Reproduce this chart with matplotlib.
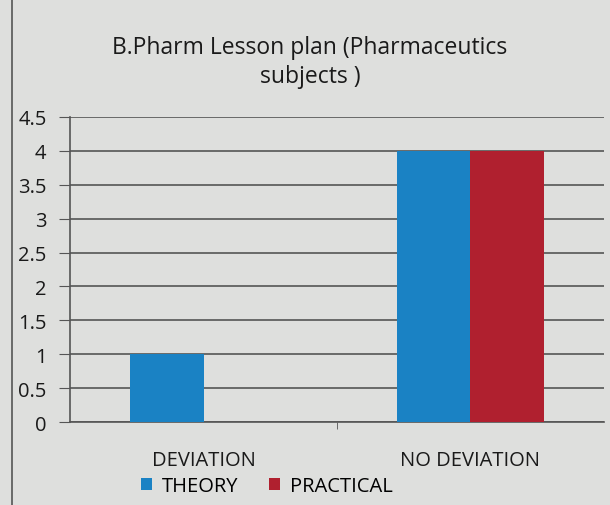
import numpy as np
import matplotlib.pyplot as plt
import matplotlib.patches as mpl_patches

categories = ['DEVIATION', 'NO DEVIATION']
theory = [1, 4]
practical = [0, 4]
series_names = ['THEORY', 'PRACTICAL']

BLUE = '#1a82c4'
RED = '#b0202f'
BG = '#dedfdd'
GRID = '#555555'
TXT = '#1a1a1a'

plt.rcParams['font.family'] = ['Open Sans', 'DejaVu Sans']

fig = plt.figure(figsize=(6.10, 5.06), dpi=100, facecolor=BG)
ax = fig.add_axes([0.115, 0.164, 0.875, 0.603])
ax.set_facecolor(BG)

x = np.arange(len(categories))
w = 0.277
ax.bar(x - w / 2, theory, width=w, color=BLUE, label=series_names[0], zorder=3)
ax.bar(x + w / 2, practical, width=w, color=RED, label=series_names[1], zorder=3)

ax.set_xlim(-0.5, 1.5)
ax.set_ylim(0, 4.5)
ax.set_yticks(np.arange(0, 4.51, 0.5))
ax.set_yticklabels(['0', '0.5', '1', '1.5', '2', '2.5', '3', '3.5', '4', '4.5'])
ax.yaxis.grid(True, color=GRID, linewidth=1.2, zorder=1)

ax.set_xticks(x)
ax.set_xticklabels(categories)
ax.set_xticks([0.5], minor=True)
ax.tick_params(axis='x', which='major', length=0, pad=20, labelsize=14.5, colors=TXT)
ax.tick_params(axis='x', which='minor', length=5, color=GRID)
ax.tick_params(axis='y', length=8, color=GRID, labelsize=14.5, labelcolor=TXT, pad=9)

for side in ['top', 'right']:
    ax.spines[side].set_visible(False)
for side in ['left', 'bottom']:
    ax.spines[side].set_color(GRID)
    ax.spines[side].set_linewidth(1.2)

fig.text(0.508, 0.905, 'B.Pharm Lesson plan (Pharmaceutics', ha='center', va='center',
         fontsize=16.5, color=TXT)
fig.text(0.508, 0.847, 'subjects )', ha='center', va='center',
         fontsize=16.5, color=TXT)

fig.legend(loc='center', bbox_to_anchor=(0.437, 0.037), ncol=2, frameon=False,
           fontsize=14.5, handlelength=0.55, handleheight=0.55, handletextpad=0.5,
           columnspacing=1.5)

# frame edge of the printed chart
fig.add_artist(mpl_patches.Rectangle((0.02, -0.01), 1.2, 1.2, transform=fig.transFigure,
                                     fill=False, edgecolor='#555555', linewidth=1.2))

fig.savefig('out.png', dpi=100, facecolor=BG)
